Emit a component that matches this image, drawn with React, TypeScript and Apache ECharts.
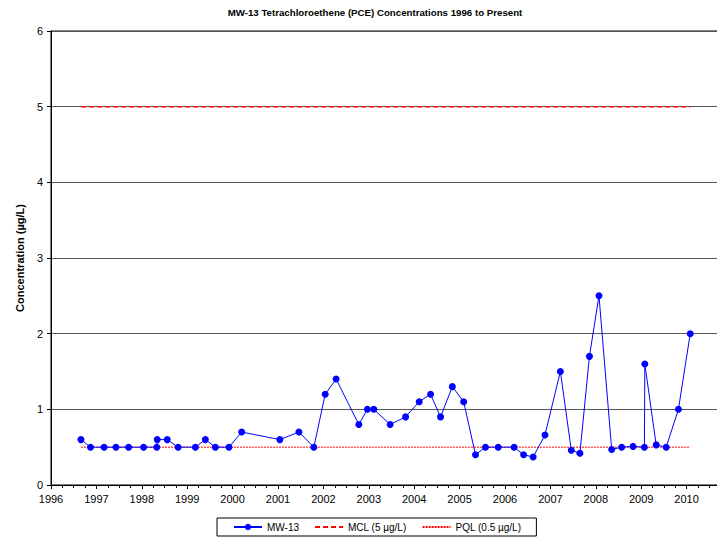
import React, { useEffect, useRef } from "react";
import * as echarts from "echarts";

const chartTitle = "MW-13 Tetrachloroethene (PCE) Concentrations 1996 to Present";
const yAxisTitle = "Concentration (µg/L)";

// decimal-year sample dates and PCE concentrations (µg/L)
const sampleYears = [
  1996.66, 1996.87, 1997.17, 1997.43, 1997.71, 1998.04, 1998.33, 1998.34, 1998.56, 1998.8,
  1999.18, 1999.4, 1999.62, 1999.92, 2000.2, 2001.04, 2001.46, 2001.79, 2002.04, 2002.28,
  2002.78, 2002.97, 2003.11, 2003.47, 2003.81, 2004.11, 2004.36, 2004.58, 2004.84, 2005.09,
  2005.35, 2005.57, 2005.85, 2006.2, 2006.41, 2006.62, 2006.88, 2007.22, 2007.46, 2007.65,
  2007.86, 2008.07, 2008.35, 2008.57, 2008.82, 2009.07, 2009.08, 2009.33, 2009.55, 2009.82,
  2010.08,
];
const pceValues = [
  0.6, 0.5, 0.5, 0.5, 0.5, 0.5, 0.5, 0.6, 0.6, 0.5,
  0.5, 0.6, 0.5, 0.5, 0.7, 0.6, 0.7, 0.5, 1.2, 1.4,
  0.8, 1.0, 1.0, 0.8, 0.9, 1.1, 1.2, 0.9, 1.3, 1.1,
  0.4, 0.5, 0.5, 0.5, 0.4, 0.37, 0.66, 1.5, 0.46, 0.42,
  1.7, 2.5, 0.47, 0.5, 0.51, 0.5, 1.6, 0.53, 0.5, 1.0,
  2.0,
];
const limitRange = [1996.66, 2010.08];
const mclValue = 5;
const pqlValue = 0.5;
const seriesNames = ["MW-13", "MCL (5 µg/L)", "PQL (0.5 µg/L)"];
const lastLabelYear = 2010;

export default function App() {
  const ref = useRef<HTMLDivElement>(null);
  useEffect(() => {
    document.body.style.margin = "0";
    const chart = echarts.init(ref.current!, null, { renderer: "svg" });
    const pce = sampleYears.map((x, i) => [x, pceValues[i]]);
    chart.setOption({
      animation: false,
      backgroundColor: "#fff",
      textStyle: { fontFamily: "Liberation Sans" },
      title: {
        text: chartTitle,
        left: 370,
        textAlign: "center",
        top: 2,
        textStyle: { fontSize: 9.7, fontWeight: "bold", color: "#000", fontFamily: "Liberation Sans" },
      },
      grid: {
        left: 51,
        right: 0,
        top: 31,
        bottom: 53,
        outerBoundsMode: "none",
        containLabel: false,
        show: true,
        borderColor: "#000",
        borderWidth: 1,
      },
      xAxis: {
        type: "value",
        min: 1996,
        max: 2011,
        interval: 1,
        axisLine: { lineStyle: { color: "#000", width: 1 } },
        axisTick: { show: true, length: 4, lineStyle: { color: "#000" } },
        minorTick: { show: true, splitNumber: 4, length: 3, lineStyle: { color: "#000" } },
        splitLine: { show: false },
        axisLabel: {
          color: "#000",
          fontSize: 11,
          margin: 8,
          formatter: (v: number) => (v > lastLabelYear ? "" : String(Math.round(v))),
        },
      },
      yAxis: {
        type: "value",
        min: 0,
        max: 6,
        interval: 1,
        name: yAxisTitle,
        nameLocation: "middle",
        nameGap: 20,
        nameTextStyle: { fontSize: 11, fontWeight: "bold", color: "#000" },
        axisLine: { show: true, lineStyle: { color: "#000", width: 1 } },
        axisTick: { show: true, length: 4, lineStyle: { color: "#000" } },
        splitLine: { show: true, lineStyle: { color: "#555", width: 1 } },
        axisLabel: { color: "#000", fontSize: 11, margin: 8 },
      },
      legend: {
        bottom: 2,
        left: 217,
        itemGap: 15,
        itemWidth: 28,
        itemHeight: 8,
        padding: [4, 15, 4, 16],
        borderColor: "#000",
        borderWidth: 1,
        textStyle: { fontSize: 10, color: "#000" },
        data: [
          { name: seriesNames[0] },
          { name: seriesNames[1], itemStyle: { opacity: 0 } },
          { name: seriesNames[2], itemStyle: { opacity: 0 } },
        ],
      },
      series: [
        {
          name: seriesNames[2],
          type: "line",
          data: limitRange.map((x) => [x, pqlValue]),
          symbol: "none",
          lineStyle: { color: "#FF0000", width: 1, type: [2, 1] },
          itemStyle: { color: "#FF0000" },
          z: 2,
        },
        {
          name: seriesNames[1],
          type: "line",
          data: limitRange.map((x) => [x, mclValue]),
          symbol: "none",
          lineStyle: { color: "#FF0000", width: 1.5, type: [5, 3] },
          itemStyle: { color: "#FF0000" },
          z: 3,
        },
        {
          name: seriesNames[0],
          type: "line",
          data: pce,
          symbol: "circle",
          symbolSize: 7,
          lineStyle: { color: "#0000FF", width: 1 },
          itemStyle: { color: "#0000FF" },
          z: 4,
        },
      ],
    });
    return () => chart.dispose();
  }, []);
  return (
    <div style={{ width: 717, height: 538, overflow: "hidden" }}>
      <div ref={ref} style={{ width: 732, height: 538 }} />
    </div>
  );
}
